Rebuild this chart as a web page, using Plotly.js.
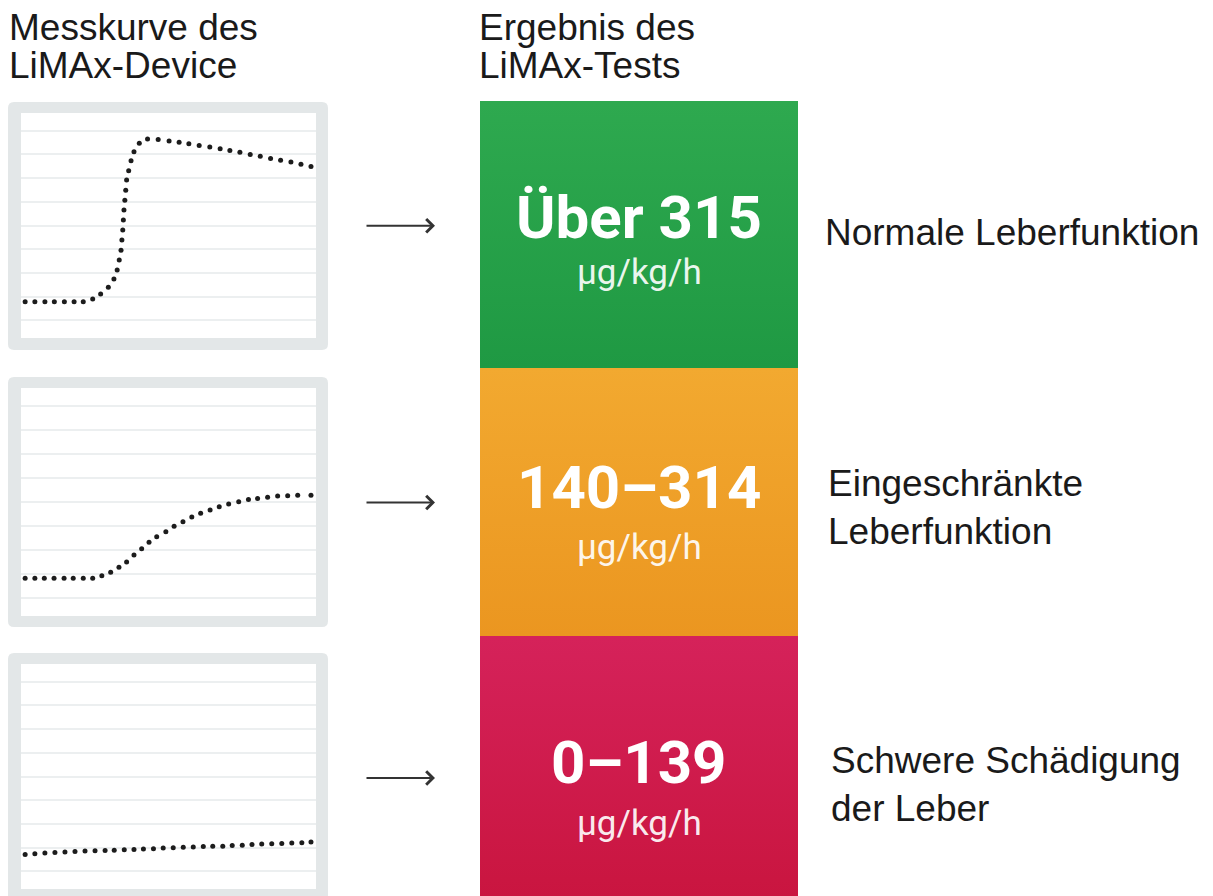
<!DOCTYPE html>
<html>
<head>
<meta charset="utf-8">
<script src="https://cdn.plot.ly/plotly-3.0.1.min.js"></script>
<style>
  html, body { margin: 0; padding: 0; background: #ffffff; }
  #chart { width: 1213px; height: 896px; }
</style>
</head>
<body>
<div id="chart"></div>
<script>
// ---------- Data ----------
// Measurement curves of the LiMAx device (time 0–100, signal on a 0.25–9.75 grid scale)
const normalX = [1.4, 4.7, 8.1, 11.3, 14.7, 18.0, 21.1, 24.3, 27.0, 29.6, 31.5, 32.6, 33.3, 33.9, 34.2, 34.5, 34.7, 34.9, 35.2, 35.5, 35.8, 36.5, 37.3, 38.3, 40.1, 42.9, 46.5, 50.2, 53.6, 56.9, 60.4, 64.0, 67.5, 70.8, 74.2, 77.7, 81.1, 84.6, 88.0, 91.5, 94.9, 98.3];
const normalY = [1.78, 1.78, 1.78, 1.78, 1.78, 1.78, 1.78, 1.90, 2.11, 2.39, 2.74, 3.12, 3.54, 3.96, 4.39, 4.81, 5.23, 5.65, 6.07, 6.49, 6.92, 7.31, 7.73, 8.11, 8.47, 8.65, 8.63, 8.57, 8.51, 8.45, 8.38, 8.31, 8.24, 8.17, 8.09, 8.00, 7.92, 7.83, 7.76, 7.68, 7.59, 7.49];

const limitedX = [1.4, 4.7, 7.9, 11.2, 14.6, 17.7, 21.1, 24.3, 27.4, 30.4, 33.2, 35.8, 38.3, 40.9, 43.4, 46.0, 49.1, 51.9, 54.9, 57.9, 60.9, 64.1, 67.2, 70.4, 73.8, 77.1, 80.2, 83.6, 87.0, 90.4, 93.8, 98.3];
const limitedY = [1.82, 1.82, 1.82, 1.82, 1.82, 1.82, 1.82, 1.82, 1.93, 2.07, 2.28, 2.50, 2.79, 3.05, 3.32, 3.55, 3.76, 3.99, 4.18, 4.37, 4.53, 4.67, 4.80, 4.92, 5.01, 5.10, 5.15, 5.20, 5.25, 5.26, 5.28, 5.28];

const severeX = [1.4, 4.7, 8.1, 11.5, 14.9, 18.3, 21.7, 25.1, 28.5, 31.6, 35.0, 38.3, 41.5, 44.9, 48.2, 51.6, 55.0, 58.4, 61.8, 65.0, 68.4, 71.6, 75.0, 78.3, 81.6, 85.0, 88.4, 91.8, 95.2, 98.3];
const severeY = [1.71, 1.74, 1.77, 1.79, 1.81, 1.83, 1.85, 1.87, 1.88, 1.89, 1.91, 1.92, 1.94, 1.95, 1.98, 1.99, 2.01, 2.02, 2.04, 2.05, 2.06, 2.09, 2.10, 2.13, 2.15, 2.16, 2.17, 2.19, 2.20, 2.23];

const gridLevels = [1, 2, 3, 4, 5, 6, 7, 8, 9];

// Result classes of the LiMAx test
const resultValues = ['Über 315', '140–314', '0–139'];
const resultUnit = 'µg/kg/h';
const resultLabels = ['Normale Leberfunktion', 'Eingeschränkte<br>Leberfunktion', 'Schwere Schädigung<br>der Leber'];
const resultColorsTop = ['#2ea94f', '#f2a930', '#d5225a'];
const resultColorsBottom = ['#1f9943', '#eb9620', '#c9153f'];

const headerLeft = ['Messkurve des', 'LiMAx-Device'];
const headerRight = ['Ergebnis des', 'LiMAx-Tests'];

// ---------- Layout helpers (page pixels -> paper fractions) ----------
const W = 1213, H = 896;
const X = px => px / W;
const Y = py => 1 - py / H;

function roundRect(x0, y0, x1, y1, r) {
  const p = (x, y) => X(x).toFixed(5) + ',' + Y(y).toFixed(5);
  return 'M' + p(x0 + r, y0) + 'L' + p(x1 - r, y0) + 'Q' + p(x1, y0) + ' ' + p(x1, y0 + r) +
         'L' + p(x1, y1 - r) + 'Q' + p(x1, y1) + ' ' + p(x1 - r, y1) +
         'L' + p(x0 + r, y1) + 'Q' + p(x0, y1) + ' ' + p(x0, y1 - r) +
         'L' + p(x0, y0 + r) + 'Q' + p(x0, y0) + ' ' + p(x0 + r, y0) + 'Z';
}

// panel geometry: outer frame and inner plot area (pixels)
const panels = [
  { outer: [8, 102, 328, 350], inner: [21, 113, 316, 338] },
  { outer: [8, 377, 328, 627], inner: [21, 388, 316, 616] },
  { outer: [8, 653, 328, 904], inner: [21, 664, 316, 889] }
];
const blocks = [[480, 101, 798, 368], [480, 368, 798, 636], [480, 636, 798, 900]];

const series = [[normalX, normalY], [limitedX, limitedY], [severeX, severeY]];

// gradient-filled result blocks on a full-page overlay axis (paper units)
const blockTraces = blocks.map((b, i) => {
  const x0 = X(b[0]), x1 = X(b[2]), yb = Y(b[3]), yt = Y(b[1]);
  return {
    type: 'scatter', mode: 'lines',
    x: [x0, x1, x1, x0, x0], y: [yb, yb, yt, yt, yb],
    xaxis: 'x4', yaxis: 'y4',
    fill: 'toself', line: { width: 0, color: 'rgba(0,0,0,0)' },
    fillgradient: {
      type: 'vertical', start: yb, stop: yt,
      colorscale: [[0, resultColorsBottom[i]], [1, resultColorsTop[i]]]
    },
    hoverinfo: 'skip'
  };
});

const curveTraces = series.map((s, i) => ({
  type: 'scatter', mode: 'markers',
  x: s[0], y: s[1],
  xaxis: i === 0 ? 'x' : 'x' + (i + 1),
  yaxis: i === 0 ? 'y' : 'y' + (i + 1),
  marker: { size: 5, color: '#1c1c1c' },
  hoverinfo: 'skip'
}));

const layout = {
  width: W, height: H,
  margin: { l: 0, r: 0, t: 0, b: 0 },
  paper_bgcolor: '#ffffff',
  plot_bgcolor: 'rgba(0,0,0,0)',
  showlegend: false,
  shapes: [],
  annotations: [],
  xaxis4: { domain: [0, 1], range: [0, 1], visible: false, fixedrange: true, anchor: 'y4' },
  yaxis4: { domain: [0, 1], range: [0, 1], visible: false, fixedrange: true, anchor: 'x4' }
};

panels.forEach((p, i) => {
  const sfx = i === 0 ? '' : String(i + 1);
  layout['xaxis' + sfx] = {
    domain: [X(p.inner[0]), X(p.inner[2])], range: [0, 100],
    showgrid: false, zeroline: false, showticklabels: false, ticks: '', showline: false,
    anchor: 'y' + sfx, fixedrange: true
  };
  layout['yaxis' + sfx] = {
    domain: [Y(p.inner[3]), Y(p.inner[1])], range: [0.25, 9.75],
    tickvals: gridLevels, showgrid: true, gridcolor: '#eceff0', gridwidth: 2,
    zeroline: false, showticklabels: false, ticks: '', showline: false,
    anchor: 'x' + sfx, fixedrange: true
  };
  layout.shapes.push({
    type: 'path', xref: 'paper', yref: 'paper', layer: 'below',
    path: roundRect(p.outer[0], p.outer[1], p.outer[2], p.outer[3], 6),
    fillcolor: '#e3e7e8', line: { width: 0 }
  });
  layout.shapes.push({
    type: 'rect', xref: 'paper', yref: 'paper', layer: 'below',
    x0: X(p.inner[0]), x1: X(p.inner[2]), y0: Y(p.inner[3]), y1: Y(p.inner[1]),
    fillcolor: '#ffffff', line: { width: 0 }
  });
});

const labelFont = { family: 'Liberation Sans, Arial, sans-serif', size: 37, color: '#1a1a1a' };

// headers
[[headerLeft, 7], [headerRight, 477]].forEach(([lines, x]) => {
  [27.8, 65.0].forEach((yc, k) => {
    layout.annotations.push({
      xref: 'paper', yref: 'paper', x: X(x), y: Y(yc),
      xanchor: 'left', yanchor: 'middle', showarrow: false,
      text: lines[k], font: labelFont
    });
  });
});

// numbers, units, labels, arrows
const numY = [217.5, 487.5, 762.5];
const unitY = [272.5, 547, 823.5];
const labelY = [232.5, 507.2, 784.6];
const labelX = [823, 826, 829];
const arrowY = [225.7, 502.5, 778];

resultValues.forEach((v, i) => {
  layout.annotations.push({
    xref: 'paper', yref: 'paper', x: X(639), y: Y(numY[i]),
    xanchor: 'center', yanchor: 'middle', showarrow: false,
    text: '<b>' + v + '</b>',
    font: { family: 'Roboto, sans-serif', size: 60, color: '#ffffff' }
  });
  layout.annotations.push({
    xref: 'paper', yref: 'paper', x: X(639), y: Y(unitY[i]),
    xanchor: 'center', yanchor: 'middle', showarrow: false,
    text: resultUnit,
    font: { family: 'Roboto, sans-serif', size: 35, color: 'rgba(255,255,255,0.92)' }
  });
  layout.annotations.push({
    xref: 'paper', yref: 'paper', x: X(labelX[i]), y: Y(labelY[i]),
    xanchor: 'left', yanchor: 'middle', showarrow: false, align: 'left',
    text: resultLabels[i], font: labelFont
  });
  layout.annotations.push({
    xref: 'paper', yref: 'paper', x: X(435), y: Y(arrowY[i]),
    text: '', showarrow: true, ax: -70, ay: 0,
    arrowhead: 4, arrowsize: 1.3, arrowwidth: 2, arrowcolor: '#333333', standoff: 0
  });
});

Plotly.newPlot('chart', blockTraces.concat(curveTraces), layout, { staticPlot: true, displayModeBar: false });
</script>
</body>
</html>
